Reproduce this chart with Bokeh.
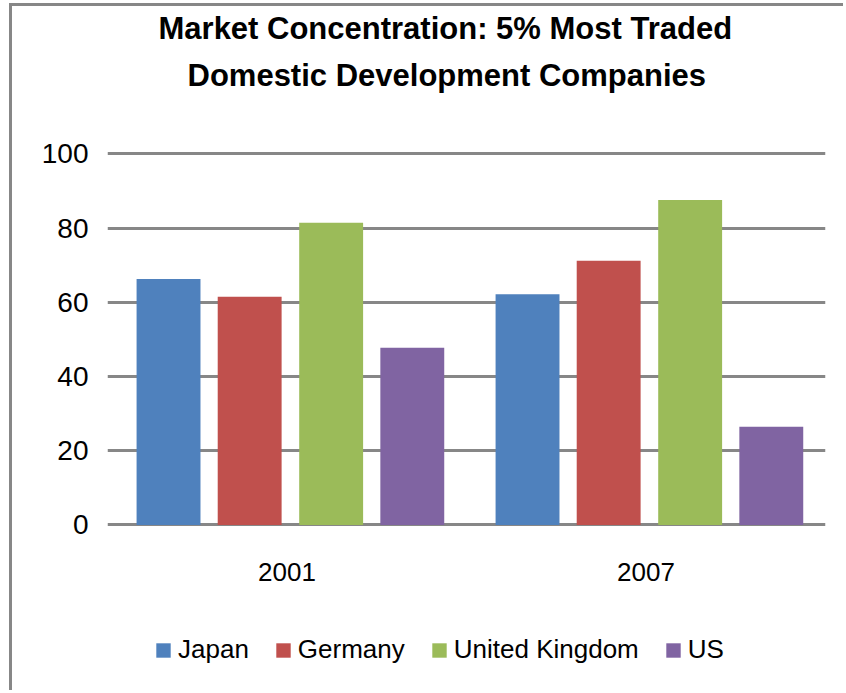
from bokeh.plotting import figure
from bokeh.models import FactorRange, Range1d, Legend, LegendItem, FixedTicker, Title, ColumnDataSource
from bokeh.transform import dodge
from bokeh.embed import file_html
from bokeh.resources import INLINE

years = ["2001", "2007"]
countries = ["Japan", "Germany", "United Kingdom", "US"]
japan = [66.3, 62.2]
germany = [61.5, 71.2]
uk = [81.5, 87.6]
us = [47.8, 26.5]
y_ticks = [0, 20, 40, 60, 80, 100]
title_line1 = "Market Concentration:  5% Most Traded"
title_line2 = "Domestic Development Companies"

colors = ["#4F81BD", "#C0504D", "#9BBB59", "#8064A2"]
offsets = [-0.330, -0.104, 0.123, 0.349]
FONT = "Liberation Sans"

src = ColumnDataSource(dict(year=years, Japan=japan, Germany=germany, UK=uk, US=us))
keys = ["Japan", "Germany", "UK", "US"]

# frame extends below the axis so that the legend sits inside it
p = figure(x_range=FactorRange(*years, range_padding=0), y_range=Range1d(-45.42, 114.42),
           width=834, height=687, output_backend="svg", toolbar_location=None,
           min_border_left=95, min_border_right=21, min_border_top=0, min_border_bottom=0,
           styles={"border-top": "3px solid #878787", "border-left": "3px solid #878787",
                   "margin-top": "3px", "margin-left": "9px"})
p.outline_line_color = None
p.background_fill_color = "white"
p.border_fill_color = "white"

renderers = []
for k, off, c in zip(keys, offsets, colors):
    r = p.vbar(x=dodge("year", off, range=p.x_range), top=k, width=0.178, source=src,
               fill_color=c, line_color=None)
    renderers.append(r)

p.xgrid.grid_line_color = None
p.ygrid.ticker = FixedTicker(ticks=y_ticks)
p.ygrid.grid_line_color = "#878787"
p.ygrid.grid_line_width = 3

p.yaxis.ticker = FixedTicker(ticks=y_ticks)
p.yaxis.axis_line_color = None
p.yaxis.major_tick_line_color = None
p.yaxis.minor_tick_line_color = None
p.yaxis.major_tick_out = 0
p.yaxis.major_tick_in = 0
p.yaxis.major_label_text_font = FONT
p.yaxis.major_label_text_font_size = "28px"
p.yaxis.major_label_text_color = "black"
p.yaxis.major_label_standoff = 19

p.xaxis.fixed_location = 0
p.xaxis.axis_line_color = None
p.xaxis.major_tick_line_color = None
p.xaxis.major_tick_out = 0
p.xaxis.major_tick_in = 0
p.xaxis.major_label_text_font = FONT
p.xaxis.major_label_text_font_size = "26px"
p.xaxis.major_label_text_color = "black"
p.xaxis.major_label_standoff = 38

t2 = Title(text=title_line2, align="left", vertical_align="middle", text_font=FONT,
           text_font_size="31px", text_font_style="bold", text_color="black",
           offset=80, standoff=13)
t1 = Title(text=title_line1, align="left", vertical_align="middle", text_font=FONT,
           text_font_size="31px", text_font_style="bold", text_color="black",
           offset=51, standoff=7)
p.add_layout(t2, "above")
p.add_layout(t1, "above")

legend = Legend(items=[LegendItem(label=lbl, renderers=[r]) for lbl, r in zip(countries, renderers)],
                orientation="horizontal", location=(47, 28),
                glyph_width=18, glyph_height=18, label_standoff=6, spacing=25,
                label_text_font=FONT, label_text_font_size="26px", label_text_color="black",
                border_line_color=None, background_fill_alpha=0, padding=0, margin=0)
p.add_layout(legend, "center")

open("out.html", "w").write(file_html(p, INLINE))
